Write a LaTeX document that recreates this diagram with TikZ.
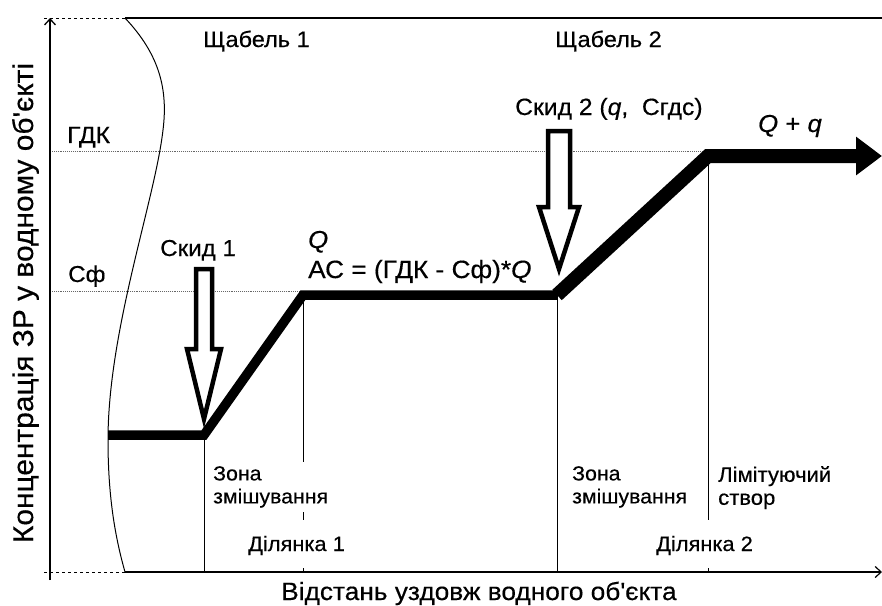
\documentclass[tikz,border=0pt]{standalone}
\usepackage{fontspec}
\setmainfont{Liberation Sans}[FakeStretch=1.05, FakeBold=0.4]
\usetikzlibrary{arrows.meta}

\begin{document}
\begin{tikzpicture}[x=1pt, y=-1pt,
    lbl/.style={anchor=base west, inner sep=0pt},
    zone/.style={anchor=north west, align=left, fill=white, inner xsep=3pt, inner ysep=4pt, font=\fontsize{20.3}{23}\selectfont},
    part/.style={anchor=base west, fill=white, text height=14pt, text depth=0pt, inner xsep=3pt, inner ysep=17pt, font=\fontsize{20.8}{23}\selectfont},
    level/.style={densely dotted, line width=0.9pt, black!60},
    drop/.style={draw, fill=white, line width=4.5pt, line join=miter},
    axis/.style={line width=2pt, -{Straight Barb[length=6pt, width=11pt, line width=1.3pt]}}]
  \useasboundingbox (0,0) rectangle (882,605);
  % reference points
  \coordinate (O) at (50,572);
  \coordinate (yEnd) at (50,18);
  \coordinate (xStart) at (125,572);
  \coordinate (xEnd) at (882,572);
  \coordinate (tStart) at (125,18);
  \coordinate (tEnd) at (882,18);
  \coordinate (gdk) at (50,151);
  \coordinate (cf) at (50,291);
  \coordinate (s0) at (108,435);
  \coordinate (m1) at (204,435);
  \coordinate (p1) at (303,295);
  \coordinate (m2) at (557,295);
  \coordinate (p2) at (708,156);
  \coordinate (fEnd) at (882,156);
  % levels and sections
  \draw[level] (gdk) -- (gdk -| p2);
  \draw[level] (cf) -- (cf -| p1);
  \draw[line width=1pt] (m1) -- (m1 |- O);
  \draw[line width=1pt] (p1) -- (p1 |- O);
  \draw[line width=1pt] (m2) -- (m2 |- O);
  \draw[line width=1pt] (p2) -- (p2 |- O);
  % velocity profile
  \draw[line width=1pt] (tStart) .. controls (160,55) and (168,90) .. (163,130)
    .. controls (155,200) and (108,330) .. (108,440)
    .. controls (108,500) and (116,540) .. (xStart);
  % axes
  \draw[dashed, line width=1pt] (44,18) -- (tStart);
  \draw[dashed, line width=1pt] (44,572) -- (xStart);
  \draw[line width=1.2pt] (tStart) -- (tEnd);
  \draw[axis] (50,580) -- (yEnd);
  \draw[line width=1.2pt, -{Straight Barb[length=6pt, width=11pt, line width=1.2pt]}] (xStart) -- (xEnd);
  % concentration
  \draw[line width=9.5pt, line join=miter] (s0) -- (m1) -- (p1) -- (m2);
  \draw[line width=14pt, line join=miter, -{Triangle[length=26pt, width=37pt]}] (m2) -- (p2) -- (fEnd);
  % discharges
  \draw[drop] (196,269) -- (212,269) -- (212,349) -- (221,349) -- (204,419) -- (187,349) -- (196,349) -- cycle;
  \draw[drop] (548,131) -- (570,131) -- (570,207) -- (579,207) -- (559,269) -- (539,207) -- (548,207) -- cycle;
  % labels
  \node[lbl, font=\fontsize{22.4}{25}\selectfont] (st1) at (203,47) {Щабель 1};
  \node[lbl, font=\fontsize{22.4}{25}\selectfont] (st2) at (555,47) {Щабель 2};
  \node[lbl, font=\fontsize{23.5}{25}\selectfont] (gdkL) at (67,143) {ГДК};
  \node[lbl, font=\fontsize{23}{25}\selectfont] (cfL) at (68,282) {Сф};
  \node[lbl, font=\fontsize{23}{25}\selectfont] (sk1) at (160,256) {Скид 1};
  \node[lbl, font=\fontsize{23.5}{25}\selectfont] (sk2) at (515,115) {Скид 2 (\textit{q}, \ Сгдс)};
  \node[lbl, font=\fontsize{24.5}{27}\selectfont] (qL) at (308,248) {\textit{Q}};
  \node[lbl, font=\fontsize{25}{27}\selectfont] (ac) at (308,278) {АС = (ГДК - Сф)*\textit{Q}};
  \node[lbl, font=\fontsize{24.5}{27}\selectfont] (qq) at (758,132) {\textit{Q} + \textit{q}};
  \node[zone] (z1) at (210,462) {Зона\\змішування};
  \node[zone] (z2) at (569,462) {Зона\\змішування};
  \node[zone, font=\fontsize{21}{23}\selectfont] (lim) at (715,462) {Лімітуючий\\створ};
  \node[part] (d1) at (245,551) {Ділянка 1};
  \node[part] (d2) at (653,551) {Ділянка 2};
  \node[anchor=base, inner sep=0pt, font=\fontsize{25}{28}\selectfont] (xL) at (479,600) {Відстань уздовж водного об\textquotesingle єкта};
  \node[anchor=base, rotate=90, inner sep=0pt, font=\fontsize{28.5}{30}\selectfont] (yL) at (33,303) {Концентрація ЗР у водному об\textquotesingle єкті};
\end{tikzpicture}
\end{document}
